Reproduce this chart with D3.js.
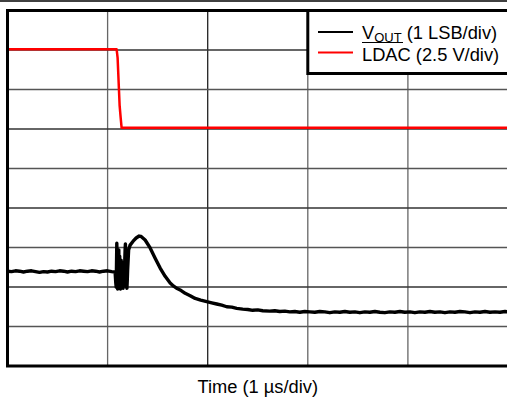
<!DOCTYPE html>
<html>
<head>
<meta charset="utf-8">
<script src="https://cdn.jsdelivr.net/npm/d3@7"></script>
<style>
  body { margin: 0; background: #fff; }
  svg { display: block; font-family: "Liberation Sans", Arial, sans-serif; }
</style>
</head>
<body>
<div class="graph-pane"></div>
<script>
// time in µs (1 div = 1 µs), level in vertical divisions (0 = bottom)
var ldac = [
  [0.00, 8.02], [1.09, 8.02], [1.10, 7.80], [1.12, 6.60], [1.13, 6.30], [1.14, 6.03], [5.00, 6.03]
];

var vout = [
  [0.00, 2.40], [0.04, 2.39], [0.08, 2.41], [0.12, 2.40], [0.16, 2.38], [0.20, 2.40],
  [0.24, 2.41], [0.28, 2.39], [0.32, 2.37], [0.36, 2.39], [0.40, 2.38], [0.44, 2.40],
  [0.48, 2.39], [0.52, 2.41], [0.56, 2.40], [0.60, 2.38], [0.64, 2.40], [0.68, 2.39],
  [0.72, 2.41], [0.76, 2.40], [0.80, 2.39], [0.84, 2.41], [0.88, 2.40], [0.92, 2.38],
  [0.96, 2.40], [1.00, 2.41], [1.04, 2.39], [1.075, 2.38],
  // glitch
  [1.082, 2.10], [1.086, 2.00], [1.092, 3.11], [1.097, 2.20], [1.100, 1.95],
  [1.104, 2.90], [1.108, 2.05], [1.112, 2.94], [1.115, 1.97], [1.118, 2.60],
  [1.121, 2.78], [1.124, 2.02], [1.128, 1.95], [1.131, 2.55], [1.135, 2.68],
  [1.138, 2.08], [1.142, 2.00], [1.145, 2.50], [1.149, 2.63], [1.152, 2.05],
  [1.155, 1.97], [1.158, 2.40], [1.162, 2.58], [1.165, 2.10], [1.168, 2.03],
  [1.172, 2.70], [1.175, 2.94], [1.178, 3.09], [1.181, 2.60], [1.185, 2.10],
  [1.189, 2.00], [1.193, 1.97], [1.197, 2.20], [1.200, 2.43], [1.210, 2.94],
  // recovery bump
  [1.225, 3.06], [1.255, 3.16], [1.285, 3.24], [1.315, 3.29], [1.335, 3.28],
  [1.375, 3.19], [1.425, 2.99], [1.475, 2.73], [1.525, 2.48], [1.575, 2.27],
  [1.625, 2.10], [1.660, 2.02], [1.695, 1.96], [1.735, 1.91], [1.775, 1.84],
  [1.825, 1.78], [1.875, 1.71], [1.930, 1.67], [1.990, 1.63],
  // settling tail
  [2.04, 1.60], [2.09, 1.57], [2.14, 1.54], [2.19, 1.50], [2.24, 1.49], [2.29, 1.46],
  [2.35, 1.44], [2.40, 1.43], [2.45, 1.41], [2.50, 1.42], [2.55, 1.40], [2.62, 1.39],
  [2.67, 1.40], [2.72, 1.38], [2.77, 1.39], [2.82, 1.37], [2.87, 1.38], [2.92, 1.36],
  [2.97, 1.38], [3.02, 1.37], [3.07, 1.36], [3.12, 1.38], [3.17, 1.37], [3.22, 1.35],
  [3.27, 1.37], [3.32, 1.36], [3.37, 1.38], [3.42, 1.36], [3.47, 1.37], [3.52, 1.35],
  [3.57, 1.37], [3.62, 1.36], [3.67, 1.38], [3.72, 1.36], [3.77, 1.35], [3.82, 1.37],
  [3.87, 1.36], [3.92, 1.38], [3.97, 1.36], [4.02, 1.37], [4.07, 1.35], [4.12, 1.37],
  [4.17, 1.36], [4.22, 1.38], [4.27, 1.36], [4.32, 1.37], [4.37, 1.35], [4.42, 1.37],
  [4.47, 1.36], [4.52, 1.38], [4.57, 1.37], [4.62, 1.35], [4.67, 1.37], [4.72, 1.36],
  [4.77, 1.38], [4.82, 1.36], [4.87, 1.37], [4.92, 1.36], [4.97, 1.38], [5.00, 1.37]
];

var xDivs = [0, 1, 2, 3, 4, 5];
var yDivs = [0, 1, 2, 3, 4, 5, 6, 7, 8, 9];
var xTitle = "Time (1 \u00B5s/div)";

var width = 507, height = 399;

var x = d3.scaleLinear().domain([0, 5]).range([7.5, 508]);
var y = d3.scaleLinear().domain([0, 9]).range([366, 10.5]);

var svg = d3.select(".graph-pane")
  .append("svg")
  .attr("width", width)
  .attr("height", height);

// thin rule along the top of the figure
svg.append("line")
  .attr("x1", 0).attr("x2", width)
  .attr("y1", 1).attr("y2", 1)
  .attr("stroke", "#000")
  .attr("stroke-width", 1.3);

svg.append("clipPath").attr("id", "plot")
  .append("rect")
  .attr("x", x(0)).attr("y", y(9))
  .attr("width", x(5) - x(0)).attr("height", y(0) - y(9));

// grid
svg.append("g").selectAll("line")
  .data(xDivs.slice(1, -1))
  .enter().append("line")
  .attr("x1", (d) => x(d)).attr("x2", (d) => x(d))
  .attr("y1", y(0)).attr("y2", y(9))
  .attr("stroke", (d, i) => i == 1 ? "#222" : "#666")
  .attr("stroke-width", 1.3);

svg.append("g").selectAll("line")
  .data(yDivs.slice(1, -1))
  .enter().append("line")
  .attr("x1", x(0)).attr("x2", x(5))
  .attr("y1", (d) => y(d)).attr("y2", (d) => y(d))
  .attr("stroke", (d, i) => i % 2 == 0 ? "#555" : "#333")
  .attr("stroke-width", 1.3);

var line = d3.line()
  .x((d) => x(d[0]))
  .y((d) => y(d[1]));

var traces = svg.append("g").attr("clip-path", "url(#plot)");

traces.append("path")
  .attr("d", line(ldac))
  .attr("fill", "none")
  .attr("stroke", "#ff0000")
  .attr("stroke-width", 2.5)
  .attr("stroke-linejoin", "round");

traces.append("path")
  .attr("d", line(vout))
  .attr("fill", "none")
  .attr("stroke", "#000")
  .attr("stroke-width", 3.4)
  .attr("stroke-linejoin", "round")
  .attr("stroke-linecap", "round");

// frame (right side runs off the picture)
svg.append("path")
  .attr("d", "M" + (x(5) + 4) + "," + y(9) + "H" + x(0) + "V" + y(0) + "H" + (x(5) + 4))
  .attr("fill", "none")
  .attr("stroke", "#000")
  .attr("stroke-width", 3);

// legend
var legend = svg.append("g");
legend.append("rect")
  .attr("x", x(3)).attr("y", y(9))
  .attr("width", x(5) - x(3) + 4).attr("height", 63)
  .attr("fill", "#fff")
  .attr("stroke", "#000")
  .attr("stroke-width", 3);

legend.append("line")
  .attr("x1", 318).attr("x2", 353).attr("y1", 32).attr("y2", 32)
  .attr("stroke", "#000").attr("stroke-width", 2);
legend.append("line")
  .attr("x1", 318).attr("x2", 353).attr("y1", 52.5).attr("y2", 52.5)
  .attr("stroke", "#ff0000").attr("stroke-width", 2);

var t1 = legend.append("text")
  .attr("x", 362).attr("y", 38.5)
  .attr("font-size", 18.3);
t1.append("tspan").text("V");
t1.append("tspan").attr("dy", 3).attr("font-size", 13).text("OUT");
t1.append("tspan").attr("dy", -3).text(" (1 LSB/div)");

legend.append("text")
  .attr("x", 362).attr("y", 60.5)
  .attr("font-size", 18.3)
  .text("LDAC (2.5 V/div)");
legend.append("line")
  .attr("x1", 362).attr("x2", 403).attr("y1", 42.5).attr("y2", 42.5)
  .attr("stroke", "#000").attr("stroke-width", 1.2);

svg.append("text")
  .attr("x", (x(0) + x(5)) / 2)
  .attr("y", 393)
  .attr("text-anchor", "middle")
  .attr("font-size", 18.3)
  .text(xTitle);
</script>
</body>
</html>
